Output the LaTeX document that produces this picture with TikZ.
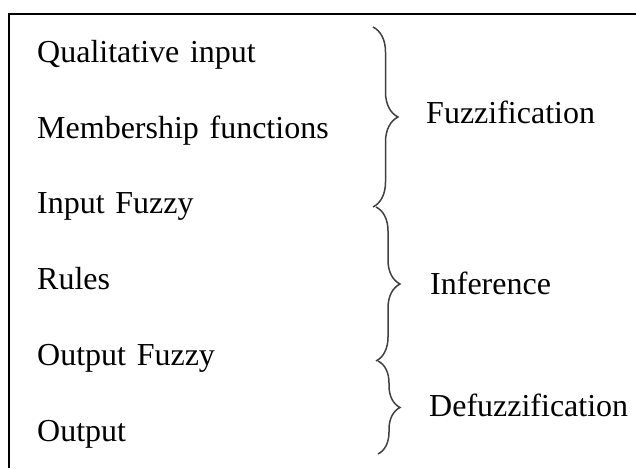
\documentclass[tikz,border=0pt]{standalone}
\usepackage{fontspec}
\setmainfont[Ligatures=NoCommon]{Liberation Serif}
\usetikzlibrary{positioning, decorations.pathreplacing}

\begin{document}
\begin{tikzpicture}[
  x=1pt, y=1pt,
  stage/.style={
    inner sep=0pt,
    text width=300pt,
    align=left,
    font=\fontsize{32}{36}\selectfont,
    text height=22pt,
    text depth=8pt
  },
  phase/.style={
    inner sep=0pt,
    anchor=base west,
    font=\fontsize{32}{36}\selectfont
  },
  brc/.style={
    decorate,
    decoration={brace, amplitude=#1, aspect=0.5},
    line width=1.5pt,
    black!75
  },
  node distance=45.4pt
]

\useasboundingbox (0,0) rectangle (636,-468);

% Frame (cut off at right and bottom)
\draw[line width=2.6pt] (636,-14) -- (9,-14) -- (9,-468);

% Steps
\node[stage, anchor=north west] (qual) at (37,-40) {Qualitative input};
\node[stage, below=of qual] (member) {Membership functions};
\node[stage, below=of member] (infuzzy) {Input Fuzzy};
\node[stage, below=of infuzzy] (rules) {Rules};
\node[stage, below=of rules] (outfuzzy) {Output Fuzzy};
\node[stage, below=of outfuzzy] (output) {Output};

% Brace ends
\coordinate (f1) at (373,-27);
\coordinate (f2) at (373,-207);
\coordinate (i1) at (376,-207);
\coordinate (i2) at (376,-361);
\coordinate (d1) at (378,-361);
\coordinate (d2) at (378,-454);

% Braces
\draw[brc=25pt] (f1) -- (f2);
\draw[brc=24pt] (i1) -- (i2);
\draw[brc=22pt] (d1) -- (d2);

% Phases
\node[phase] (fuzz) at (426,-123) {Fuzzification};
\node[phase] (infer) at (430,-294) {Inference};
\node[phase] (defuzz) at (429,-416) {Defuzzification};

\end{tikzpicture}
\end{document}
